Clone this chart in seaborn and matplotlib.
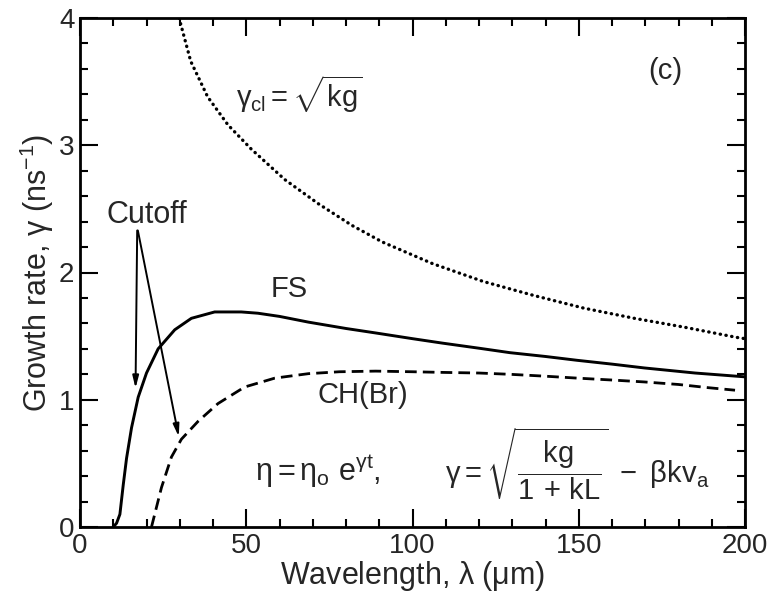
import numpy as np
import pandas as pd
import matplotlib
matplotlib.use("Agg")
import matplotlib.pyplot as plt
import seaborn as sns
from matplotlib.ticker import MultipleLocator

# ---- data ----
fs_x = [10, 11, 12, 13, 14, 15.5, 17.5, 20, 23.5, 28.5, 33.5, 40.5, 48.5, 53.5, 60, 68.7, 80,
        88.9, 100, 109, 120, 129.3, 140, 149.5, 160, 169.7, 185, 200]
fs_y = [0.0, 0.03, 0.10, 0.33, 0.54, 0.78, 1.02, 1.21, 1.40, 1.55, 1.64, 1.69, 1.69, 1.68, 1.655,
        1.61, 1.56, 1.525, 1.48, 1.445, 1.405, 1.37, 1.34, 1.31, 1.28, 1.25, 1.21, 1.18]

ch_x = [21.5, 24.5, 27.5, 30.5, 35.5, 41.5, 49.5, 58.6, 68.7, 78, 88.9, 100, 109, 120, 129.3,
        140, 149.5, 160, 169.7, 180, 188.9, 197]
ch_y = [0.0, 0.31, 0.55, 0.69, 0.83, 0.97, 1.10, 1.17, 1.205, 1.22, 1.225, 1.22, 1.215, 1.21,
        1.20, 1.185, 1.17, 1.155, 1.14, 1.12, 1.095, 1.075]

cl_x = [29.8, 33.3, 38.4, 44.5, 51.5, 61.6, 71.7, 81.8, 90.9, 106, 121.2, 136.4, 151.5, 166.7,
        181.8, 197.5, 200]
cl_y = [4.0, 3.66, 3.38, 3.16, 2.97, 2.73, 2.54, 2.37, 2.24, 2.07, 1.93, 1.82, 1.72, 1.64,
        1.57, 1.49, 1.48]

x_ticks = [0, 50, 100, 150, 200]
y_ticks = [0, 1, 2, 3, 4]

df = pd.concat([
    pd.DataFrame({"x": fs_x, "y": fs_y, "series": "FS"}),
    pd.DataFrame({"x": ch_x, "y": ch_y, "series": "CH(Br)"}),
    pd.DataFrame({"x": cl_x, "y": cl_y, "series": "cl"}),
], ignore_index=True)

sns.set_theme(style="white")
plt.rcParams["font.family"] = ["Liberation Sans", "DejaVu Sans"]
plt.rcParams["mathtext.fontset"] = "custom"
plt.rcParams["mathtext.rm"] = "Liberation Sans"
plt.rcParams["mathtext.it"] = "Liberation Sans"
plt.rcParams["mathtext.bf"] = "Liberation Sans:bold"
plt.rcParams["mathtext.sf"] = "Liberation Sans"

fig = plt.figure(figsize=(7.71, 5.94), dpi=100)
ax = fig.add_axes([80 / 771, 67 / 594, 665 / 771, 509 / 594])

line_kw = {
    "FS": dict(lw=2.1, linestyle="solid"),
    "CH(Br)": dict(lw=2.0, linestyle=(0, (4.2, 2.2))),
    "cl": dict(lw=2.4, linestyle=(0, (0.1, 1.65)), dash_capstyle="round"),
}
for name in ["FS", "CH(Br)", "cl"]:
    sub = df[df["series"] == name]
    sns.lineplot(data=sub, x="x", y="y", ax=ax, color="black", sort=False,
                 estimator=None, **line_kw[name])

ax.set_xlim(0, 200)
ax.set_ylim(0, 4)
ax.set_xticks(x_ticks)
ax.set_yticks(y_ticks)
ax.xaxis.set_minor_locator(MultipleLocator(10))
ax.yaxis.set_minor_locator(MultipleLocator(0.2))
ax.tick_params(which="both", direction="in", top=True, right=True, bottom=True, left=True,
               color="black", labelsize=20, width=1.5)
ax.tick_params(which="major", length=13, pad=4)
ax.tick_params(which="minor", length=6)
for s in ax.spines.values():
    s.set_color("black")
    s.set_linewidth(2)

ax.set_xlabel(r"Wavelength, $\lambda$ ($\mu$m)", fontsize=22, labelpad=0)
ax.set_ylabel(r"Growth rate, $\gamma$ (ns$^{-1}$)", fontsize=22, labelpad=2)

ax.text(176.0, 3.58, "(c)", fontsize=21, ha="center", va="center")
ax.text(66.0, 3.40, r"$\gamma_{\rm cl} = \sqrt{\rm kg}$", fontsize=21, ha="center", va="center")
ax.text(63.0, 1.87, "FS", fontsize=21, ha="center", va="center")
ax.text(85.0, 1.04, "CH(Br)", fontsize=21, ha="center", va="center")
ax.text(71.5, 0.44, r"$\eta = \eta_{\rm o}\ {\rm e}^{\gamma t},$", fontsize=22, ha="center",
        va="center")
ax.text(149.5, 0.49, r"$\gamma = \sqrt{\dfrac{\rm kg}{1\,+\,{\rm kL}}}\ -\ \beta {\rm kv_a}$",
        fontsize=21, ha="center", va="center")
ax.text(20.0, 2.45, "Cutoff", fontsize=22, ha="center", va="center")

arrow = dict(arrowstyle="-|>,head_width=0.15,head_length=0.6", lw=1.4, color="black",
             shrinkA=0, shrinkB=0)
ax.annotate("", xy=(16.7, 1.09), xytext=(17.2, 2.33), arrowprops=arrow)
ax.annotate("", xy=(29.7, 0.71), xytext=(17.4, 2.33), arrowprops=arrow)

fig.savefig("out.png", dpi=100)
